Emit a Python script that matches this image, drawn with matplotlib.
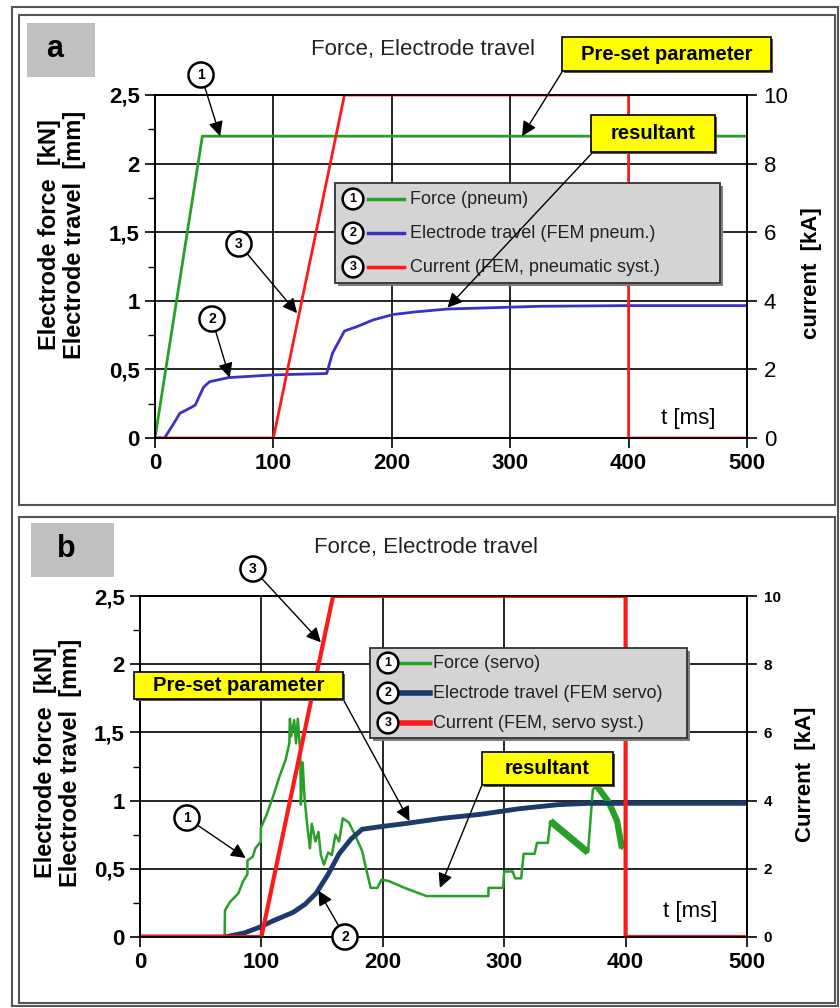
import matplotlib
matplotlib.use("Agg")
import matplotlib.pyplot as plt
from matplotlib.patches import Rectangle
from matplotlib.lines import Line2D

plt.rcParams['font.family'] = ['Liberation Sans', 'DejaVu Sans']

# ---- data: panel a (pneumatic) ----
t_force_a = [0, 40, 500]
force_a = [0, 2.2, 2.2]
t_travel_a = [0, 8, 14, 21, 30, 34, 41, 46, 62, 100, 145, 150, 160, 170, 184,
              201, 221, 247, 325, 400, 500]
travel_a = [0, 0, 0.08, 0.18, 0.22, 0.24, 0.37, 0.41, 0.44, 0.46, 0.47, 0.62,
            0.78, 0.81, 0.86, 0.90, 0.92, 0.94, 0.96, 0.965, 0.965]
t_cur_a = [0, 100, 160, 400, 400, 500]
cur_a = [0, 0, 10, 10, 0, 0]

# ---- data: panel b (servo) ----
t_force_b = [0, 69.7, 70, 74, 81, 85, 88.5, 88.5, 93, 95, 99.5, 99.5, 104, 110,
             115, 120, 123, 123.5, 124.5, 127, 128.5, 130, 132, 132.5, 134,
             135.5, 138, 140, 141.5, 144.5, 147, 149, 151.5, 155, 158, 161, 164,
             167, 172, 177, 183, 186, 190, 195.5, 199, 205, 218, 236, 287, 287,
             299, 300, 307, 309, 314, 316, 325, 327, 336, 338, 369, 373, 376,
             386, 393, 397]
force_b = [0, 0, 0.195, 0.255, 0.32, 0.41, 0.46, 0.56, 0.59, 0.65, 0.70, 0.80,
           0.89, 1.04, 1.18, 1.30, 1.42, 1.60, 1.47, 1.59, 1.42, 1.60, 1.35,
           0.97, 1.28, 1.02, 0.80, 0.65, 0.83, 0.70, 0.77, 0.60, 0.53, 0.62,
           0.60, 0.75, 0.70, 0.87, 0.84, 0.75, 0.63, 0.51, 0.36, 0.36, 0.42,
           0.41, 0.36, 0.30, 0.30, 0.36, 0.36, 0.48, 0.48, 0.43, 0.43, 0.61,
           0.61, 0.69, 0.69, 0.85, 0.62, 1.08, 1.11, 0.99, 0.85, 0.65]
# oscillating (thick) parts of the servo force
t_band1 = [338, 369]
band1 = [0.85, 0.62]
t_band2 = [376, 386, 393, 397]
band2 = [1.11, 0.99, 0.85, 0.65]
t_travel_b = [0, 70, 86, 98, 110, 126, 136, 145, 155, 164, 174, 183, 199, 217,
              249, 281, 312, 344, 369, 500]
travel_b = [0, 0, 0.03, 0.07, 0.12, 0.18, 0.24, 0.32, 0.46, 0.61, 0.72, 0.79,
            0.81, 0.83, 0.87, 0.90, 0.94, 0.97, 0.98, 0.98]
t_cur_b = [0, 100, 159, 400, 400, 500]
cur_b = [0, 0, 10, 10, 0, 0]

x_ticks = [0, 100, 200, 300, 400, 500]
y_ticks = [0, 0.5, 1, 1.5, 2, 2.5]
y_tick_labels = ['0', '0,5', '1', '1,5', '2', '2,5']
y_minor = [0.25, 0.75, 1.25, 1.75, 2.25]
cur_ticks = [0, 2, 4, 6, 8, 10]

GREEN = '#27a027'
BLUE = '#3b32c4'
RED = '#ff1a1a'
NAVY = '#1d3a6c'

W, H = 840, 1008
fig = plt.figure(figsize=(8.4, 10.08), dpi=100)


def fx(px):
    return px / W


def fy(py):
    return 1 - py / H


def setup_axes(ax, ax2, right_size, right_weight):
    ax.set_xlim(0, 500)
    ax.set_ylim(0, 2.5)
    ax2.set_ylim(0, 10)
    ax.set_xticks(x_ticks)
    ax.set_xticklabels([str(v) for v in x_ticks], fontsize=16, fontweight='bold')
    ax.set_yticks(y_ticks)
    ax.set_yticklabels(y_tick_labels, fontsize=16, fontweight='bold')
    ax.set_yticks(y_minor, minor=True)
    ax2.set_yticks(cur_ticks)
    ax2.set_yticklabels([str(v) for v in cur_ticks], fontsize=right_size,
                        fontweight=right_weight)
    ax.grid(True, which='major', color='black', lw=1.2)
    ax.tick_params(which='major', direction='out', length=7, width=1.2, pad=4)
    ax.tick_params(which='minor', direction='out', length=5, width=1.0)
    ax2.tick_params(direction='out', length=7, width=1.2, pad=5)
    for a in (ax, ax2):
        for s in a.spines.values():
            s.set_linewidth(1.2)


ARROW = dict(arrowstyle='-|>', color='black', lw=1.0, mutation_scale=22,
             shrinkA=0, shrinkB=0)


def callout(ax2, ax, num, tip, pos):
    ax2.annotate(num, xy=tip, xycoords=ax.transData,
                 xytext=(fx(pos[0]), fy(pos[1])), textcoords='figure fraction',
                 ha='center', va='center', fontsize=10, fontweight='bold',
                 annotation_clip=False,
                 bbox=dict(boxstyle='circle,pad=0.4', fc='white', ec='black', lw=1.8),
                 arrowprops=ARROW, zorder=10)


def box_arrow(ax2, ax, tip, start):
    ax2.annotate('', xy=tip, xycoords=ax.transData,
                 xytext=(fx(start[0]), fy(start[1])), textcoords='figure fraction',
                 annotation_clip=False, arrowprops=ARROW, zorder=9)


def yellow_box(ax2, text, x0, y0, x1, y1):
    ax2.add_artist(Rectangle((fx(x0 + 2), fy(y1 + 2)), fx(x1) - fx(x0), fy(y0) - fy(y1),
                             transform=fig.transFigure, fc='#555555', ec='none',
                             clip_on=False, zorder=10.5))
    ax2.add_artist(Rectangle((fx(x0), fy(y1)), fx(x1) - fx(x0), fy(y0) - fy(y1),
                             transform=fig.transFigure, fc='#ffff00', ec='black',
                             lw=1.2, clip_on=False, zorder=10.6))
    ax2.text(fx((x0 + x1) / 2), fy((y0 + y1) / 2), text, transform=fig.transFigure,
             ha='center', va='center', fontsize=14.5, fontweight='bold', zorder=11)


def legend_box(ax2, x0, y0, x1, y1, rows, xc, xl0, xl1, xt, lws):
    shadow = Rectangle((fx(x0 + 3), fy(y1 + 3)), fx(x1) - fx(x0), fy(y0) - fy(y1),
                       transform=fig.transFigure, fc='#7f7f7f', ec='none',
                       clip_on=False, zorder=7)
    rect = Rectangle((fx(x0), fy(y1)), fx(x1) - fx(x0), fy(y0) - fy(y1),
                     transform=fig.transFigure, fc='#d4d4d4', ec='#333333', lw=1.3,
                     clip_on=False, zorder=7.5)
    ax2.add_artist(shadow)
    ax2.add_artist(rect)
    for (num, label, color, yy), lw in zip(rows, lws):
        ax2.add_artist(Line2D([fx(xl0), fx(xl1)], [fy(yy), fy(yy)],
                              transform=fig.transFigure, color=color, lw=lw,
                              clip_on=False, zorder=8))
        ax2.text(fx(xc), fy(yy), num, transform=fig.transFigure, ha='center',
                 va='center', fontsize=9, fontweight='bold', zorder=8.5,
                 bbox=dict(boxstyle='circle,pad=0.35', fc='white', ec='black', lw=1.8))
        ax2.text(fx(xt), fy(yy), label, transform=fig.transFigure, ha='left',
                 va='center', fontsize=13, color='#222222', zorder=8.5)


# ================= panel a =================
ax = fig.add_axes([fx(155), fy(438), fx(747) - fx(155), fy(95) - fy(438)])
ax2 = ax.twinx()
ax.plot(t_force_a, force_a, color=GREEN, lw=2)
ax.plot(t_travel_a, travel_a, color=BLUE, lw=2)
ax2.plot(t_cur_a, cur_a, color=RED, lw=2)
setup_axes(ax, ax2, 16, 'normal')

callout(ax2, ax, '1', (55, 2.2), (201, 75))
callout(ax2, ax, '2', (63, 0.44), (212, 319))
callout(ax2, ax, '3', (120, 0.91), (239, 244))
box_arrow(ax2, ax, (310, 2.2), (562, 72))
box_arrow(ax2, ax, (247, 0.95), (593, 152))
yellow_box(ax2, 'Pre-set parameter', 562, 37, 771, 71)
yellow_box(ax2, 'resultant', 591, 115, 715, 152)
legend_box(ax2, 335, 183, 720, 283,
           [('1', 'Force (pneum)', GREEN, 199),
            ('2', 'Electrode travel (FEM pneum.)', BLUE, 233),
            ('3', 'Current (FEM, pneumatic syst.)', RED, 267)],
           353, 368, 404, 410, [2.5, 2.5, 2.5])

fig.text(fx(423), fy(50), 'Force, Electrode travel', ha='center', va='center',
         fontsize=16, color='#222222')
fig.text(fx(688), fy(418), 't [ms]', ha='center', va='center', fontsize=16)
fig.text(fx(62), fy(235), 'Electrode force  [kN]\nElectrode travel  [mm]',
         rotation=90, ha='center', va='center', fontsize=17, fontweight='bold',
         linespacing=1.1)
fig.text(fx(811), fy(273), 'current  [kA]', rotation=90, ha='center',
         va='center', fontsize=16, fontweight='bold')

# ================= panel b =================
bx = fig.add_axes([fx(140), fy(937), fx(747) - fx(140), fy(596) - fy(937)])
bx2 = bx.twinx()
bx.plot(t_force_b, force_b, color=GREEN, lw=1.8)
bx.plot(t_band1, band1, color=GREEN, lw=5, solid_capstyle='butt')
bx.plot(t_band2, band2, color=GREEN, lw=4.5, solid_capstyle='butt')
bx.plot(t_travel_b, travel_b, color=NAVY, lw=3.5)
bx2.plot(t_cur_b, cur_b, color=RED, lw=3)
setup_axes(bx, bx2, 11, 'bold')

callout(bx2, bx, '3', (149, 2.16), (253, 569))
callout(bx2, bx, '1', (87, 0.58), (187, 818))
callout(bx2, bx, '2', (147, 0.34), (345, 937))
box_arrow(bx2, bx, (222, 0.85), (343, 699))
box_arrow(bx2, bx, (247, 0.36), (482, 785))
yellow_box(bx2, 'Pre-set parameter', 134, 672, 343, 699)
yellow_box(bx2, 'resultant', 482, 752, 613, 785)
legend_box(bx2, 370, 648, 687, 738,
           [('1', 'Force (servo)', GREEN, 663),
            ('2', 'Electrode travel (FEM servo)', NAVY, 693),
            ('3', 'Current (FEM, servo syst.)', RED, 723)],
           388, 398, 430, 433, [2.5, 4, 4])

fig.text(fx(426), fy(548), 'Force, Electrode travel', ha='center', va='center',
         fontsize=16, color='#222222')
fig.text(fx(690), fy(912), 't [ms]', ha='center', va='center', fontsize=16)
fig.text(fx(58), fy(763), 'Electrode force  [kN]\nElectrode travel  [mm]',
         rotation=90, ha='center', va='center', fontsize=17, fontweight='bold',
         linespacing=1.1)
fig.text(fx(806), fy(774), 'Current  [kA]', rotation=90, ha='center',
         va='center', fontsize=16, fontweight='bold')

# ---- frames and panel letters ----
for (x0, y0, x1, y1) in [(12, 7, 838, 1006), (19, 15, 835, 505), (19, 517, 835, 1003)]:
    fig.add_artist(Rectangle((fx(x0), fy(y1)), fx(x1) - fx(x0), fy(y0) - fy(y1),
                             transform=fig.transFigure, fill=False,
                             ec='#555555', lw=1.5))
for (letter, x0, y0, x1, y1) in [('a', 27, 23, 95, 77), ('b', 31, 523, 114, 577)]:
    fig.add_artist(Rectangle((fx(x0), fy(y1)), fx(x1) - fx(x0), fy(y0) - fy(y1),
                             transform=fig.transFigure, fc='#c0c0c0', ec='none'))
    fig.text(fx((x0 + x1) / 2 - 6), fy((y0 + y1) / 2 - 1), letter, ha='center',
             va='center', fontsize=22, fontweight='bold')

fig.savefig('out.png', dpi=100)
